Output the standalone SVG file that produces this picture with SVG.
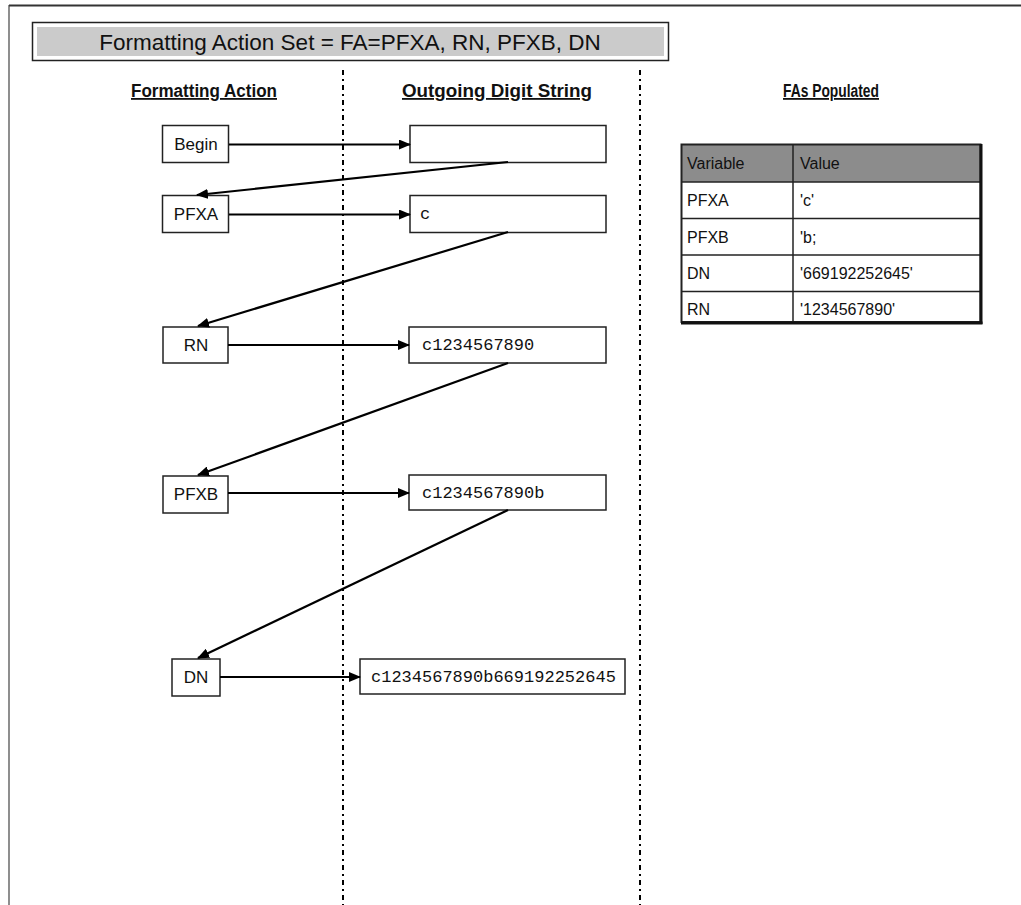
<svg xmlns="http://www.w3.org/2000/svg" width="1021" height="905" viewBox="0 0 1021 905">
<style>
.lbl{font-family:"Liberation Sans",Arial,sans-serif;font-size:17px;fill:#111;text-anchor:middle}
.str{font-family:"Liberation Mono","Courier New",monospace;font-size:17px;fill:#111}
.hdr{font-family:"Liberation Sans",Arial,sans-serif;font-size:18px;font-weight:bold;fill:#111;text-anchor:middle;text-decoration:underline}
.box{fill:#fff;stroke:#222;stroke-width:1.5}
.conn{stroke:#000;stroke-width:2.2;fill:none;marker-end:url(#ah)}
.sep{stroke:#000;stroke-width:2;stroke-dasharray:5 4 2 4;fill:none}
.tt{font-family:"Liberation Sans",Arial,sans-serif;font-size:16px;fill:#111}
.tl{stroke:#222;stroke-width:1.5}
</style>
<defs>
<marker id="ah" markerUnits="userSpaceOnUse" markerWidth="12" markerHeight="10" refX="11" refY="5" orient="auto">
<path d="M0,0 L12,5 L0,10 Z" fill="#000"/>
</marker>
</defs>
<rect width="1021" height="905" fill="#fff"/>
<!-- page frame -->
<line x1="9" y1="5.5" x2="1021" y2="5.5" stroke="#333" stroke-width="2"/>
<line x1="9" y1="5" x2="9" y2="905" stroke="#444" stroke-width="1.2"/>
<!-- title -->
<g id="title">
<rect x="32.5" y="22.5" width="636" height="38" fill="#fff" stroke="#222" stroke-width="1.5"/>
<rect x="37" y="27" width="627" height="29" fill="#cbcbcb"/>
<text x="350" y="49.5" font-family="'Liberation Sans',Arial,sans-serif" font-size="22.5" text-anchor="middle" fill="#111">Formatting Action Set = FA=PFXA, RN, PFXB, DN</text>
</g>
<!-- headers -->
<g id="headers">
<text class="hdr" x="204" y="97" textLength="146" lengthAdjust="spacingAndGlyphs">Formatting Action</text>
<text class="hdr" x="497" y="97" textLength="190" lengthAdjust="spacingAndGlyphs">Outgoing Digit String</text>
<text class="hdr" x="831" y="97" textLength="96" lengthAdjust="spacingAndGlyphs">FAs Populated</text>
</g>
<!-- separators -->
<g id="separators">
<line class="sep" x1="343" y1="70" x2="343" y2="905"/>
<line class="sep" x1="640" y1="70" x2="640" y2="905"/>
</g>
<!-- action nodes -->
<g id="begin"><rect class="box" x="162.5" y="125.5" width="66" height="37"/><text class="lbl" x="196" y="150">Begin</text></g>
<g id="pfxa"><rect class="box" x="162.5" y="195.5" width="66" height="37"/><text class="lbl" x="196" y="220">PFXA</text></g>
<g id="rn"><rect class="box" x="163" y="327" width="65" height="36"/><text class="lbl" x="196" y="351">RN</text></g>
<g id="pfxb"><rect class="box" x="163" y="476" width="65" height="37"/><text class="lbl" x="196" y="500">PFXB</text></g>
<g id="dn"><rect class="box" x="172" y="659" width="48" height="37"/><text class="lbl" x="196" y="683">DN</text></g>
<!-- string nodes -->
<g id="s0"><rect class="box" x="410" y="125.5" width="196" height="37"/></g>
<g id="s1"><rect class="box" x="410" y="195.5" width="196" height="37"/><text class="str" x="420" y="219">c</text></g>
<g id="s2"><rect class="box" x="409" y="327" width="197" height="36"/><text class="str" x="422" y="350">c1234567890</text></g>
<g id="s3"><rect class="box" x="409" y="475" width="197" height="35"/><text class="str" x="422" y="498">c1234567890b</text></g>
<g id="s4"><rect class="box" x="360" y="659" width="265" height="35"/><text class="str" x="371" y="682">c1234567890b669192252645</text></g>
<!-- connectors -->
<g id="connectors">
<line class="conn" x1="229" y1="144.5" x2="410" y2="144.5"/>
<line class="conn" x1="508" y1="162" x2="197" y2="195"/>
<line class="conn" x1="229" y1="214.5" x2="410" y2="214.5"/>
<line class="conn" x1="508" y1="232" x2="198" y2="326"/>
<line class="conn" x1="228" y1="345" x2="409" y2="345"/>
<line class="conn" x1="508" y1="363" x2="198" y2="475"/>
<line class="conn" x1="228" y1="493" x2="409" y2="493"/>
<line class="conn" x1="508" y1="510" x2="198" y2="658"/>
<line class="conn" x1="220" y1="677" x2="360" y2="677"/>
</g>
<!-- table -->
<g id="table">
<rect x="681" y="144" width="300" height="178" fill="#fff"/>
<rect x="681" y="144" width="300" height="38" fill="#8c8c8c"/>
<line class="tl" x1="681" y1="182" x2="981" y2="182"/>
<line class="tl" x1="681" y1="218.5" x2="981" y2="218.5"/>
<line class="tl" x1="681" y1="255" x2="981" y2="255"/>
<line class="tl" x1="681" y1="291.5" x2="981" y2="291.5"/>
<line class="tl" x1="793" y1="144" x2="793" y2="322"/>
<rect x="681.5" y="144.5" width="299" height="177.5" fill="none" stroke="#222" stroke-width="2"/>
<line x1="981" y1="144" x2="981" y2="324" stroke="#111" stroke-width="3"/>
<line x1="681" y1="323" x2="982.5" y2="323" stroke="#111" stroke-width="3"/>
<text class="tt" x="687" y="169">Variable</text><text class="tt" x="800" y="169">Value</text>
<text class="tt" x="687" y="206">PFXA</text><text class="tt" x="800" y="206">'c'</text>
<text class="tt" x="687" y="243">PFXB</text><text class="tt" x="800" y="243">'b;</text>
<text class="tt" x="687" y="279">DN</text><text class="tt" x="800" y="279">'669192252645'</text>
<text class="tt" x="687" y="315">RN</text><text class="tt" x="800" y="315">'1234567890'</text>
</g>
</svg>
